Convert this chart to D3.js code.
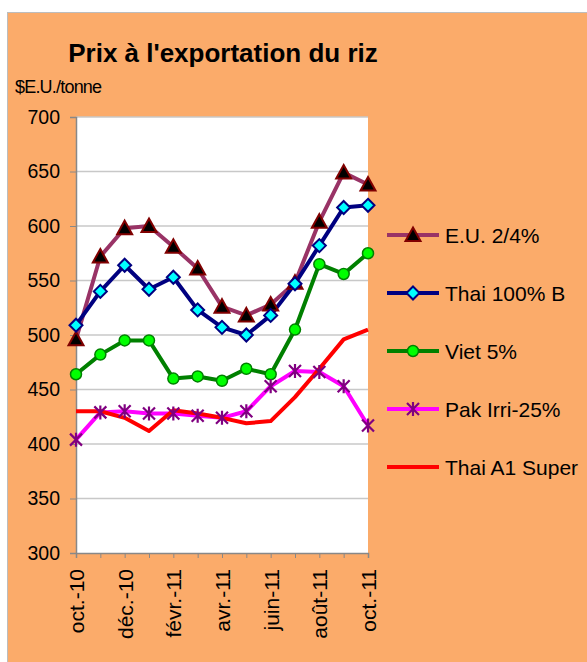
<!DOCTYPE html>
<html>
<head>
<meta charset="utf-8">
<script src="https://cdn.jsdelivr.net/npm/d3@7"></script>
<style>
    html, body { margin: 0; padding: 0; background: #fff; }
    svg { display: block; font-family: "Liberation Sans", Arial, sans-serif; }
</style>
</head>
<body>
<div id="chart"></div>
<script>
// ── Prix à l'exportation du riz ──

const months = ['oct.-10', 'nov.-10', 'déc.-10', 'janv.-11', 'févr.-11', 'mars-11', 'avr.-11',
    'mai-11', 'juin-11', 'juil.-11', 'août-11', 'sept.-11', 'oct.-11'];
const shownLabels = ['oct.-10', 'déc.-10', 'févr.-11', 'avr.-11', 'juin-11', 'août-11', 'oct.-11'];
const yTicks = [300, 350, 400, 450, 500, 550, 600, 650, 700];

const euValues = [496, 572, 598, 600, 581, 561, 526, 518, 528, 548, 604, 649, 638];
const thai100Values = [509, 540, 564, 542, 553, 523, 507, 500, 518, 547, 582, 617, 619];
const vietValues = [464, 482, 495, 495, 460, 462, 458, 469, 464, 505, 565, 556, 575];
const pakValues = [404, 429, 430, 428, 428, 426, 424, 430, 453, 467, 466, 453, 417];
const thaiA1Values = [430, 430, 424, 412, 431, 428, 424, 419, 421, 443, 469, 496, 505];

const series = [
    { name: 'E.U. 2/4%', values: euValues, line: '#993366', marker: 'triangle', fill: '#000000', stroke: '#800000' },
    { name: 'Thai 100% B', values: thai100Values, line: '#000080', marker: 'diamond', fill: '#00FFFF', stroke: '#000080' },
    { name: 'Viet 5%', values: vietValues, line: '#008000', marker: 'circle', fill: '#00FF00', stroke: '#008000' },
    { name: 'Pak Irri-25%', values: pakValues, line: '#FF00FF', marker: 'star', fill: 'none', stroke: '#800080' },
    { name: 'Thai A1 Super', values: thaiA1Values, line: '#FF0000', marker: null },
];

const W = 587, H = 662;
const plot = { left: 76, right: 368, top: 117, bottom: 553 };

const svg = d3.select('#chart').append('svg')
    .attr('width', W)
    .attr('height', H);

// Orange frame
svg.append('rect')
    .attr('x', 7.5).attr('y', 12.5)
    .attr('width', W).attr('height', H)
    .attr('fill', '#FBAB6A')
    .attr('stroke', '#BDBDBD')
    .attr('stroke-width', 1);

// Plot area
svg.append('rect')
    .attr('x', plot.left).attr('y', plot.top)
    .attr('width', plot.right - plot.left)
    .attr('height', plot.bottom - plot.top)
    .attr('fill', '#fff');

const x = d3.scalePoint().domain(months).range([plot.left, plot.right]);
const y = d3.scaleLinear().domain([300, 700]).range([plot.bottom, plot.top]);

// Gridlines
svg.append('g')
    .selectAll('line')
    .data(yTicks.filter(t => t > 300))
    .join('line')
    .attr('x1', plot.left).attr('x2', plot.right)
    .attr('y1', d => y(d)).attr('y2', d => y(d))
    .attr('stroke', '#C8C8C8')
    .attr('stroke-width', 1.5);

// Y axis
const yAxis = svg.append('g')
    .attr('transform', `translate(${plot.left},0)`)
    .call(d3.axisLeft(y).tickValues(yTicks).tickSize(6).tickPadding(10));
yAxis.select('.domain').attr('stroke', '#888').attr('stroke-width', 1.5);
yAxis.selectAll('.tick line').attr('stroke', '#888');
yAxis.selectAll('text')
    .attr('font-size', 19.5)
    .attr('fill', '#000')
    .attr('font-family', '"Liberation Sans", Arial, sans-serif');

// X axis
const xAxis = svg.append('g')
    .attr('transform', `translate(0,${plot.bottom})`)
    .call(d3.axisBottom(x).tickSize(5).tickFormat(d => shownLabels.includes(d) ? d : ''));
xAxis.select('.domain').attr('stroke', '#888').attr('stroke-width', 1.5);
xAxis.selectAll('.tick line').attr('stroke', '#888');
xAxis.selectAll('text')
    .attr('font-size', 21)
    .attr('fill', '#000')
    .attr('font-family', '"Liberation Sans", Arial, sans-serif')
    .attr('text-anchor', 'end')
    .attr('transform', 'rotate(-90)')
    .attr('x', -16)
    .attr('y', 0)
    .attr('dy', '0.36em');

// Lines
const line = d3.line()
    .x((d, i) => x(months[i]))
    .y(d => y(d));

svg.append('g')
    .selectAll('path')
    .data(series)
    .join('path')
    .attr('d', d => line(d.values))
    .attr('fill', 'none')
    .attr('stroke', d => d.line)
    .attr('stroke-width', 4)
    .attr('stroke-linejoin', 'round');

// Marker shapes
function drawMarker(sel, s) {
    if (s.marker === 'triangle') {
        sel.append('path')
            .attr('d', 'M0,-7.5 L7.5,6 L-7.5,6 Z')
            .attr('fill', s.fill).attr('stroke', s.stroke).attr('stroke-width', 2);
    } else if (s.marker === 'diamond') {
        sel.append('path')
            .attr('d', 'M0,-6.5 L6.5,0 L0,6.5 L-6.5,0 Z')
            .attr('fill', s.fill).attr('stroke', s.stroke).attr('stroke-width', 2);
    } else if (s.marker === 'circle') {
        sel.append('circle')
            .attr('r', 5.5)
            .attr('fill', s.fill).attr('stroke', s.stroke).attr('stroke-width', 1.5);
    } else if (s.marker === 'star') {
        sel.append('path')
            .attr('d', 'M0,-7 L0,7 M-6,-6 L6,6 M-6,6 L6,-6')
            .attr('fill', 'none').attr('stroke', s.stroke).attr('stroke-width', 2.2);
    }
}

series.filter(s => s.marker).forEach(s => {
    svg.append('g')
        .selectAll('g')
        .data(s.values)
        .join('g')
        .attr('transform', (d, i) => `translate(${x(months[i])},${y(d)})`)
        .each(function () { drawMarker(d3.select(this), s); });
});

// Title and unit label
svg.append('text')
    .attr('x', 223).attr('y', 62)
    .attr('text-anchor', 'middle')
    .attr('font-size', 26)
    .attr('font-weight', 'bold')
    .text("Prix à l'exportation du riz");

svg.append('text')
    .attr('x', 15).attr('y', 93)
    .attr('font-size', 18)
    .attr('letter-spacing', -0.8)
    .text('$E.U./tonne');

// Legend
const legend = svg.append('g')
    .selectAll('g')
    .data(series)
    .join('g')
    .attr('transform', (d, i) => `translate(387,${235 + i * 58})`);

legend.append('line')
    .attr('x1', 0).attr('x2', 52)
    .attr('stroke', d => d.line)
    .attr('stroke-width', 4);

legend.each(function (d) {
    const m = d3.select(this).append('g').attr('transform', 'translate(26,0)');
    drawMarker(m, d);
});

legend.append('text')
    .attr('x', 58).attr('y', 7.5)
    .attr('font-size', 21)
    .text(d => d.name);
</script>
</body>
</html>
